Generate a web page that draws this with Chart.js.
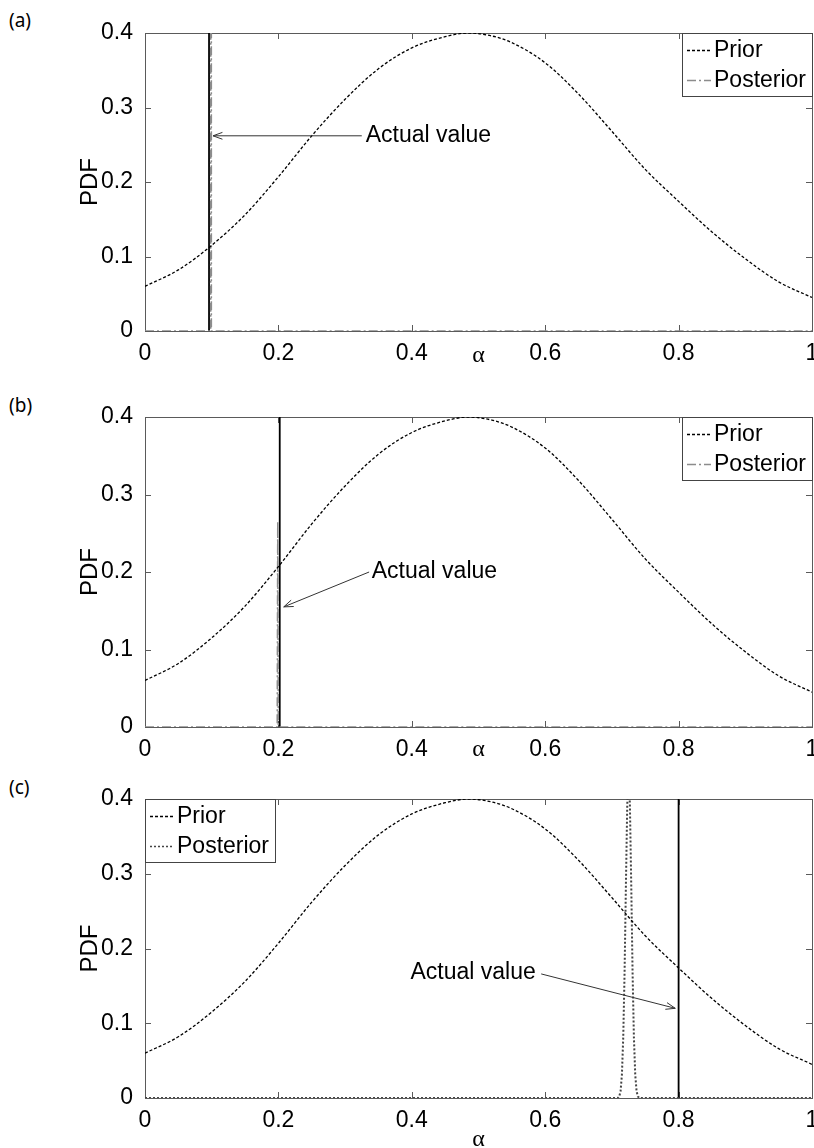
<!DOCTYPE html>
<html>
<head>
<meta charset="utf-8">
<script src="https://cdn.jsdelivr.net/npm/chart.js@4.4.1/dist/chart.umd.min.js"></script>
<style>
  html, body { margin: 0; padding: 0; background: #fff; }
  body { width: 814px; height: 1148px; position: relative; overflow: hidden; }
  canvas { position: absolute; left: 0; }
  .tag { position: absolute; left: 9px; font-family: 'Noto Sans', sans-serif; font-size: 19px; color: #000; line-height: 22px; }
</style>
</head>
<body>
<div class="tag" style="top:9px">(a)</div>
<div class="tag" style="top:394px">(b)</div>
<div class="tag" style="top:776px">(c)</div>
<canvas id="chartA" width="814" height="372" style="top:0px"></canvas>
<canvas id="chartB" width="814" height="385" style="top:380px"></canvas>
<canvas id="chartC" width="814" height="383" style="top:765px"></canvas>
<script>
(function() {
  'use strict';

  // prior pdf of alpha (same in all three panels)
  var alphaGrid = [0, 0.05, 0.1, 0.15, 0.2, 0.25, 0.3, 0.35, 0.4, 0.45, 0.485, 0.52,
                   0.55, 0.6, 0.65, 0.7, 0.75, 0.8, 0.85, 0.9, 0.95, 1];
  var priorPdf = [0.060, 0.082, 0.115, 0.156, 0.207, 0.262, 0.311, 0.352, 0.380, 0.395, 0.400, 0.396,
                  0.387, 0.360, 0.318, 0.268, 0.217, 0.174, 0.133, 0.097, 0.066, 0.045];

  // posteriors
  var postAlphaA = [0, 0.0985, 0.099, 0.0995, 1];
  var postPdfA = [0, 0, 6, 0, 0];
  var postAlphaB = [0, 0.1982, 0.199, 0.1998, 1];
  var postPdfB = [0, 0, 0.265, 0, 0];
  var postAlphaC = [0, 0.709, 0.711, 0.713, 0.715, 0.717, 0.719, 0.721, 0.723, 0.725,
                    0.727, 0.729, 0.731, 0.733, 0.735, 0.737, 0.739, 0.741, 1];
  var postPdfC = [0, 0, 0.002, 0.009, 0.031, 0.081, 0.168, 0.285, 0.392, 0.436,
                  0.392, 0.285, 0.168, 0.081, 0.031, 0.009, 0.002, 0, 0];

  // actual alpha values (vertical solid lines)
  var actualAlpha = [0.096, 0.202, 0.8];

  var xTickStep = 0.2;
  var yTickStep = 0.1;
  var legendLabels = ['Prior', 'Posterior'];
  var noteText = 'Actual value';

  var sansFont = "'Liberation Sans', Arial, sans-serif";
  var textSize = 23;

  function pairs(xs, ys) {
    return xs.map(function(x, i) { return { x: x, y: ys[i] }; });
  }

  function vline(x) {
    return [{ x: x, y: 0 }, { x: x, y: 1 }];
  }

  function tickText(v) {
    return String(Math.round(v * 10) / 10);
  }

  // axes box with inward tick marks
  var framePlugin = {
    id: 'frame',
    beforeDatasetsDraw: function(chart) {
      var ctx = chart.ctx, a = chart.chartArea;
      var xs = chart.scales.x, ys = chart.scales.y;
      ctx.save();
      ctx.strokeStyle = '#5a5a5a';
      ctx.lineWidth = 1;
      ctx.beginPath();
      xs.ticks.forEach(function(t) {
        var px = Math.round(xs.getPixelForValue(t.value)) + 0.5;
        if (px < a.left + 2 || px > a.right - 2) return;
        ctx.moveTo(px, a.bottom); ctx.lineTo(px, a.bottom - 6);
        ctx.moveTo(px, a.top); ctx.lineTo(px, a.top + 6);
      });
      ys.ticks.forEach(function(t) {
        var py = Math.round(ys.getPixelForValue(t.value)) + 0.5;
        if (py < a.top + 2 || py > a.bottom - 2) return;
        ctx.moveTo(a.left, py); ctx.lineTo(a.left + 6, py);
        ctx.moveTo(a.right, py); ctx.lineTo(a.right - 6, py);
      });
      ctx.stroke();
      ctx.strokeRect(Math.round(a.left) + 0.5, Math.round(a.top) + 0.5,
        Math.round(a.right - a.left), Math.round(a.bottom - a.top));
      ctx.restore();
    }
  };

  // "Actual value" text with arrow, placed in data coordinates
  var arrowNote = {
    id: 'arrowNote',
    afterDatasetsDraw: function(chart, args, opts) {
      if (!opts || !opts.text) return;
      var ctx = chart.ctx, xs = chart.scales.x, ys = chart.scales.y;
      var tx = xs.getPixelForValue(opts.textX), ty = ys.getPixelForValue(opts.textY);
      var x0 = xs.getPixelForValue(opts.tailX), y0 = ys.getPixelForValue(opts.tailY);
      var x1 = xs.getPixelForValue(opts.tipX), y1 = ys.getPixelForValue(opts.tipY);
      ctx.save();
      ctx.font = textSize + 'px ' + sansFont;
      ctx.fillStyle = '#000';
      ctx.textBaseline = 'middle';
      ctx.textAlign = 'left';
      ctx.fillText(opts.text, tx, ty);
      ctx.strokeStyle = '#333';
      ctx.lineWidth = 1;
      ctx.beginPath();
      ctx.moveTo(x0, y0);
      ctx.lineTo(x1, y1);
      var ang = Math.atan2(y1 - y0, x1 - x0);
      ctx.moveTo(x1 - 10 * Math.cos(ang - 0.35), y1 - 10 * Math.sin(ang - 0.35));
      ctx.lineTo(x1, y1);
      ctx.lineTo(x1 - 10 * Math.cos(ang + 0.35), y1 - 10 * Math.sin(ang + 0.35));
      ctx.stroke();
      ctx.restore();
    }
  };

  // framed legend in a corner of the axes
  var boxLegend = {
    id: 'boxLegend',
    afterDatasetsDraw: function(chart, args, opts) {
      var ctx = chart.ctx, a = chart.chartArea;
      ctx.save();
      ctx.font = textSize + 'px ' + sansFont;
      var tw = 0;
      legendLabels.forEach(function(l) { tw = Math.max(tw, ctx.measureText(l).width); });
      var w = Math.round(34 + tw + 4), h = 63;
      var left = opts.side === 'left' ? Math.round(a.left) : Math.round(a.right) - w;
      var top = Math.round(a.top);
      ctx.fillStyle = '#fff';
      ctx.fillRect(left, top, w, h);
      ctx.strokeStyle = '#444';
      ctx.lineWidth = 1;
      ctx.strokeRect(left + 0.5, top + 0.5, w, h);
      legendLabels.forEach(function(l, i) {
        var ds = chart.data.datasets[i];
        var y = top + 17 + i * 30;
        ctx.save();
        ctx.strokeStyle = ds.borderColor;
        ctx.lineWidth = Math.min(ds.borderWidth, 1.5);
        ctx.setLineDash(ds.borderDash || []);
        ctx.beginPath();
        ctx.moveTo(left + 5, y + 0.5);
        ctx.lineTo(left + 29, y + 0.5);
        ctx.stroke();
        ctx.restore();
        ctx.fillStyle = '#000';
        ctx.textBaseline = 'middle';
        ctx.fillText(l, left + 32, y + 1);
      });
      ctx.restore();
    }
  };

  function makePanel(canvasId, layout, posterior, actual, legendSide, note) {
    var ctx = document.getElementById(canvasId).getContext('2d');
    var H = ctx.canvas.height;
    var tickFont = { family: sansFont, size: textSize };
    return new Chart(ctx, {
      type: 'line',
      data: {
        datasets: [{
          label: legendLabels[0],
          data: pairs(alphaGrid, priorPdf),
          borderColor: '#000',
          borderWidth: 1.3,
          borderDash: [3, 2],
          pointRadius: 0,
          cubicInterpolationMode: 'monotone',
          fill: false
        }, Object.assign({
          label: legendLabels[1],
          data: posterior,
          pointRadius: 0,
          tension: 0,
          fill: false
        }, posterior.style), {
          label: 'Actual',
          data: vline(actual),
          borderColor: '#000',
          borderWidth: 1.8,
          pointRadius: 0,
          fill: false
        }]
      },
      options: {
        responsive: false,
        animation: false,
        devicePixelRatio: 1,
        layout: { padding: { top: layout.areaTop, right: 2, left: 0, bottom: 0 } },
        scales: {
          x: {
            type: 'linear', min: 0, max: 1,
            ticks: { stepSize: xTickStep, padding: 1, font: tickFont, color: '#000', maxRotation: 0, autoSkip: false,
                     callback: tickText },
            grid: { display: false },
            border: { display: false },
            title: {
              display: true, text: 'α', color: '#000',
              font: { family: "'Liberation Serif', 'DejaVu Serif', serif", size: 24 },
              padding: { top: 0, bottom: H - layout.alphaY - 14.4 }
            },
            afterFit: function(s) { s.height = H - layout.areaBottom; s.paddingLeft = 0; s.paddingRight = 0; }
          },
          y: {
            type: 'linear', min: 0, max: 0.4,
            ticks: { stepSize: yTickStep, padding: 4, font: tickFont, color: '#000', callback: tickText },
            grid: { display: false },
            border: { display: false },
            title: {
              display: true, text: 'PDF', color: '#000',
              font: { family: sansFont, size: 24 },
              padding: { top: 76, bottom: 0 }
            },
            afterFit: function(s) { s.width = 145; s.paddingTop = 0; s.paddingBottom = 0; }
          }
        },
        plugins: {
          legend: { display: false },
          tooltip: { enabled: false },
          boxLegend: { side: legendSide },
          arrowNote: note
        }
      },
      plugins: [framePlugin, arrowNote, boxLegend]
    });
  }

  var postA = pairs(postAlphaA, postPdfA);
  postA.style = { borderColor: '#8c8c8c', borderWidth: 1.5, borderDash: [9, 3, 2, 3] };
  var postB = pairs(postAlphaB, postPdfB);
  postB.style = { borderColor: '#8c8c8c', borderWidth: 1.5, borderDash: [9, 3, 2, 3] };
  var postC = pairs(postAlphaC, postPdfC);
  postC.style = { borderColor: '#444', borderWidth: 2, borderDash: [2, 2] };

  makePanel('chartA', { areaTop: 33, areaBottom: 331, alphaY: 356 }, postA, actualAlpha[0], 'right',
    { text: noteText, textX: 0.331, textY: 0.262, tailX: 0.325, tailY: 0.262, tipX: 0.102, tipY: 0.262 });
  makePanel('chartB', { areaTop: 37, areaBottom: 347, alphaY: 370 }, postB, actualAlpha[1], 'right',
    { text: noteText, textX: 0.340, textY: 0.200, tailX: 0.336, tailY: 0.200, tipX: 0.208, tipY: 0.155 });
  makePanel('chartC', { areaTop: 34, areaBottom: 333, alphaY: 375 }, postC, actualAlpha[2], 'left',
    { text: noteText, textX: 0.398, textY: 0.168, tailX: 0.594, tailY: 0.166, tipX: 0.795, tipY: 0.120 });
})();
</script>
</body>
</html>
